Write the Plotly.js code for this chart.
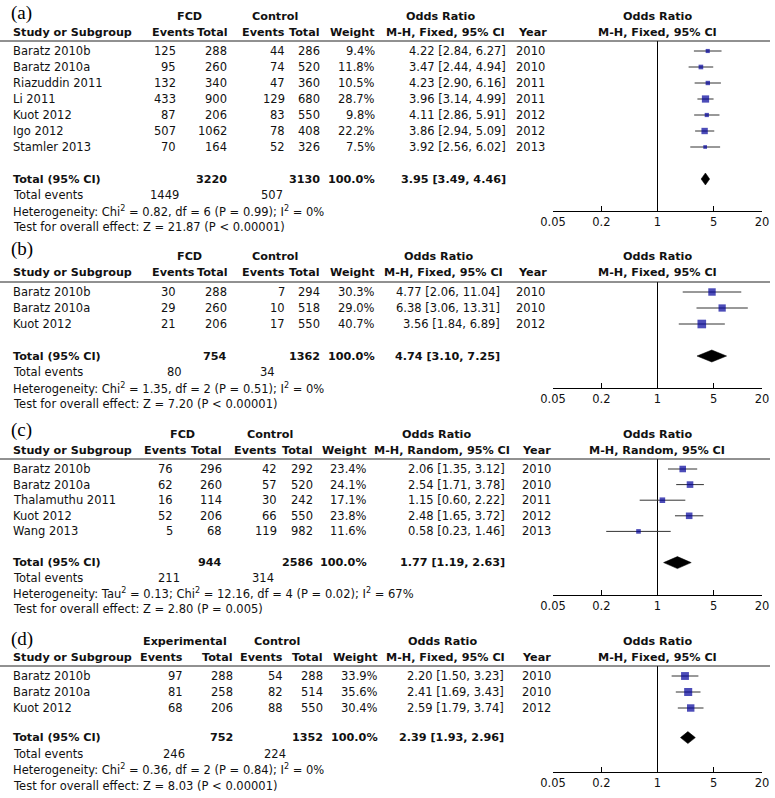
<!DOCTYPE html>
<html>
<head>
<meta charset="utf-8">
<script src="https://cdn.plot.ly/plotly-3.0.1.min.js"></script>
<style>html,body{margin:0;padding:0;background:#fff;}#plot{width:775px;height:798px;}</style>
</head>
<body>
<div id="plot"></div>
<script>
// ---------------- DATA ----------------
// Panel (a)
const studiesA = ["Baratz 2010b","Baratz 2010a","Riazuddin 2011","Li 2011","Kuot 2012","Igo 2012","Stamler 2013"];
const expEventsA = [125,95,132,433,87,507,70];
const expTotalA = [288,260,340,900,206,1062,164];
const ctrlEventsA = [44,74,47,129,83,78,52];
const ctrlTotalA = [286,520,360,680,550,408,326];
const weightA = [9.4,11.8,10.5,28.7,9.8,22.2,7.5];
const orA = [4.22,3.47,4.23,3.96,4.11,3.86,3.92];
const loA = [2.84,2.44,2.90,3.14,2.86,2.94,2.56];
const hiA = [6.27,4.94,6.16,4.99,5.91,5.09,6.02];
const yearA = [2010,2010,2011,2011,2012,2012,2013];
const totalA = {expTotal:3220, ctrlTotal:3130, or:3.95, lo:3.49, hi:4.46, expEvents:1449, ctrlEvents:507};
const hetA = "Heterogeneity: Chi<sup>2</sup> = 0.82, df = 6 (P = 0.99); I<sup>2</sup> = 0%";
const testA = "Test for overall effect: Z = 21.87 (P &lt; 0.00001)";

// Panel (b)
const studiesB = ["Baratz 2010b","Baratz 2010a","Kuot 2012"];
const expEventsB = [30,29,21];
const expTotalB = [288,260,206];
const ctrlEventsB = [7,10,17];
const ctrlTotalB = [294,518,550];
const weightB = [30.3,29.0,40.7];
const orB = [4.77,6.38,3.56];
const loB = [2.06,3.06,1.84];
const hiB = [11.04,13.31,6.89];
const yearB = [2010,2010,2012];
const totalB = {expTotal:754, ctrlTotal:1362, or:4.74, lo:3.10, hi:7.25, expEvents:80, ctrlEvents:34};
const hetB = "Heterogeneity: Chi<sup>2</sup> = 1.35, df = 2 (P = 0.51); I<sup>2</sup> = 0%";
const testB = "Test for overall effect: Z = 7.20 (P &lt; 0.00001)";

// Panel (c)
const studiesC = ["Baratz 2010b","Baratz 2010a","Thalamuthu 2011","Kuot 2012","Wang 2013"];
const expEventsC = [76,62,16,52,5];
const expTotalC = [296,260,114,206,68];
const ctrlEventsC = [42,57,30,66,119];
const ctrlTotalC = [292,520,242,550,982];
const weightC = [23.4,24.1,17.1,23.8,11.6];
const orC = [2.06,2.54,1.15,2.48,0.58];
const loC = [1.35,1.71,0.60,1.65,0.23];
const hiC = [3.12,3.78,2.22,3.72,1.46];
const yearC = [2010,2010,2011,2012,2013];
const totalC = {expTotal:944, ctrlTotal:2586, or:1.77, lo:1.19, hi:2.63, expEvents:211, ctrlEvents:314};
const hetC = "Heterogeneity: Tau<sup>2</sup> = 0.13; Chi<sup>2</sup> = 12.16, df = 4 (P = 0.02); I<sup>2</sup> = 67%";
const testC = "Test for overall effect: Z = 2.80 (P = 0.005)";

// Panel (d)
const studiesD = ["Baratz 2010b","Baratz 2010a","Kuot 2012"];
const expEventsD = [97,81,68];
const expTotalD = [288,258,206];
const ctrlEventsD = [54,82,88];
const ctrlTotalD = [288,514,550];
const weightD = [33.9,35.6,30.4];
const orD = [2.20,2.41,2.59];
const loD = [1.50,1.69,1.79];
const hiD = [3.23,3.43,3.74];
const yearD = [2010,2010,2012];
const totalD = {expTotal:752, ctrlTotal:1352, or:2.39, lo:1.93, hi:2.96, expEvents:246, ctrlEvents:224};
const hetD = "Heterogeneity: Chi<sup>2</sup> = 0.36, df = 2 (P = 0.84); I<sup>2</sup> = 0%";
const testD = "Test for overall effect: Z = 8.03 (P &lt; 0.00001)";

const tickVals = [0.05,0.2,1,5,20];
const tickText = ["0.05","0.2","1","5","20"];

// ---------------- LAYOUT POSITIONS (pixels) ----------------
const W = 775, H = 798;
const panels = [
  {label:"(a)", grp1:"FCD", method:"M-H, Fixed, 95% CI",
   studies:studiesA, ee:expEventsA, et:expTotalA, ce:ctrlEventsA, ct:ctrlTotalA, w:weightA, or:orA, lo:loA, hi:hiA, yr:yearA, tot:totalA, het:hetA, test:testA,
   pos:{row0:51, step:16, tOff:1.0, lab:13, axisY:211, g1:189, g2:275, hEv1:197, hTot1:230, hEv2:287, hTot2:322, hWt:377,
        cEv1:178, cTot1:229, cEv2:287, cTot2:322, cWt:377, cOr:508, cYr:514, hOr:440, hMH:445, hYr:516, te1:164, te2:272}},
  {label:"(b)", grp1:"FCD", method:"M-H, Fixed, 95% CI",
   studies:studiesB, ee:expEventsB, et:expTotalB, ce:ctrlEventsB, ct:ctrlTotalB, w:weightB, or:orB, lo:loB, hi:hiB, yr:yearB, tot:totalB, het:hetB, test:testB,
   pos:{row0:292, step:16, tOff:1.0, lab:249, axisY:388, g1:189, g2:275, hEv1:197, hTot1:230, hEv2:287, hTot2:322, hWt:377,
        cEv1:178, cTot1:229, cEv2:287, cTot2:322, cWt:377, cOr:502, cYr:514, hOr:438, hMH:443, hYr:516, te1:174, te2:267}},
  {label:"(c)", grp1:"FCD", method:"M-H, Random, 95% CI",
   studies:studiesC, ee:expEventsC, et:expTotalC, ce:ctrlEventsC, ct:ctrlTotalC, w:weightC, or:orC, lo:loC, hi:hiC, yr:yearC, tot:totalC, het:hetC, test:testC,
   pos:{row0:469, step:15.6, tOff:1.0, lab:430, axisY:595, g1:182, g2:270, hEv1:189, hTot1:224, hEv2:279, hTot2:315, hWt:369,
        cEv1:175, cTot1:224, cEv2:279, cTot2:315, cWt:369, cOr:507, cYr:520, hOr:436, hMH:442, hYr:520, te1:169, te2:263}},
  {label:"(d)", grp1:"Experimental", method:"M-H, Fixed, 95% CI",
   studies:studiesD, ee:expEventsD, et:expTotalD, ce:ctrlEventsD, ct:ctrlTotalD, w:weightD, or:orD, lo:loD, hi:hiD, yr:yearD, tot:totalD, het:hetD, test:testD,
   pos:{row0:676, step:16, tOff:0.85, lab:639, axisY:772, g1:185, g2:277, hEv1:185, hTot1:235, hEv2:285, hTot2:325, hWt:380,
        cEv1:185, cTot1:235, cEv2:285, cTot2:325, cWt:380, cOr:506, cYr:520, hOr:442, hMH:446, hYr:520, te1:174, te2:275}}
];

const FONT = "DejaVu Sans";
const TXT = "#111";
const FS = 11.5, FSB = 11.2;
const px = x => x / W;
const py = y => 1 - y / H;
const fmt2 = v => v.toFixed(2);
const fmtCI = (o,l,h) => fmt2(o) + " [" + fmt2(l) + ", " + fmt2(h) + "]";

const traces = [], annotations = [], shapes = [];
const layout = {
  width: W, height: H, margin:{l:0,r:0,t:0,b:0},
  paper_bgcolor:"#fff", plot_bgcolor:"rgba(0,0,0,0)",
  showlegend:false, hovermode:false,
  font:{family:FONT, size:FS, color:TXT}
};

const FX0 = 553, FX1 = 762;

panels.forEach((p, k) => {
  const n = p.studies.length;
  const P = p.pos, S = P.step;
  const xa = "x" + (k ? k+1 : ""), ya = "y" + (k ? k+1 : "");
  const xKey = "xaxis" + (k ? k+1 : ""), yKey = "yaxis" + (k ? k+1 : "");
  const lineY = P.row0 - 10;
  const h2 = P.row0 - 19, h1 = P.row0 - 35;
  const rTop = (lineY - P.row0) / S, rBot = (P.axisY - P.row0) / S;
  const t = n + P.tOff;            // total row index
  const rowPx = r => P.row0 + r * S;

  layout[xKey] = {type:"log", domain:[px(FX0), px(FX1)], range:[Math.log10(0.05), Math.log10(20)],
    anchor:ya, showline:true, linecolor:"#000", linewidth:1, ticks:"inside", ticklen:5, tickcolor:"#000",
    tickvals:tickVals, ticktext:tickText, tickfont:{family:FONT, size:FS, color:TXT},
    showgrid:false, zeroline:false, fixedrange:true};
  layout[yKey] = {domain:[py(P.axisY), py(lineY)], range:[rBot, rTop], anchor:xa,
    showgrid:false, zeroline:false, showline:false, showticklabels:false, ticks:"", fixedrange:true};

  // vertical line at OR = 1
  traces.push({type:"scatter", mode:"lines", x:[1,1], y:[rTop, rBot], xaxis:xa, yaxis:ya,
    line:{color:"#000", width:1}, cliponaxis:false});
  // CI lines
  const cx = [], cy = [];
  p.or.forEach((o,i) => { cx.push(p.lo[i], p.hi[i], null); cy.push(i, i, null); });
  traces.push({type:"scatter", mode:"lines", x:cx, y:cy, xaxis:xa, yaxis:ya, line:{color:"#333", width:1}});
  // squares sized by weight
  traces.push({type:"scatter", mode:"markers", x:p.or, y:p.or.map((o,i)=>i), xaxis:xa, yaxis:ya,
    marker:{symbol:"square", color:"#00009a", size:p.w.map(w => 1.35*Math.sqrt(w)), line:{width:0}}});
  // pooled diamond
  const dh = 6 / S;
  traces.push({type:"scatter", mode:"lines", fill:"toself", fillcolor:"#000",
    x:[p.tot.lo, p.tot.or, p.tot.hi, p.tot.or, p.tot.lo], y:[t, t-dh, t, t+dh, t],
    xaxis:xa, yaxis:ya, line:{color:"#000", width:0.5}});

  // header line
  shapes.push({type:"line", xref:"paper", yref:"paper", x0:0, x1:px(770), y0:py(lineY), y1:py(lineY),
    line:{color:"#222", width:1}});

  const A = (text, x, y, anchor, bold) => annotations.push({
    text: bold ? "<b>"+text+"</b>" : text, x:px(x), y:py(y), xref:"paper", yref:"paper",
    xanchor:anchor, yanchor:"middle", showarrow:false,
    font:{family:FONT, size: bold ? FSB : FS, color:TXT}});
  const R = (text, x, r, anchor, bold) => A(text, x, rowPx(r), anchor, bold);

  // panel label
  annotations.push({text:p.label, x:px(9), y:py(P.lab), xref:"paper", yref:"paper", xanchor:"left",
    yanchor:"middle", showarrow:false, font:{family:"Liberation Serif", size:19, color:"#000"}});
  // headers
  A(p.grp1, P.g1, h1, "center", true);
  A("Control", P.g2, h1, "center", true);
  A("Odds Ratio", P.hOr, h1, "center", true);
  A("Odds Ratio", 657, h1, "center", true);
  A("Study or Subgroup", 11, h2, "left", true);
  A("Events", P.hEv1, h2, "right", true);
  A("Total", P.hTot1, h2, "right", true);
  A("Events", P.hEv2, h2, "right", true);
  A("Total", P.hTot2, h2, "right", true);
  A("Weight", P.hWt, h2, "right", true);
  A(p.method, P.hMH, h2, "center", true);
  A("Year", P.hYr, h2, "left", true);
  A(p.method, 657, h2, "center", true);

  // study rows
  p.studies.forEach((s,i) => {
    R(s, 11, i, "left");
    R(String(p.ee[i]), P.cEv1, i, "right");
    R(String(p.et[i]), P.cTot1, i, "right");
    R(String(p.ce[i]), P.cEv2, i, "right");
    R(String(p.ct[i]), P.cTot2, i, "right");
    R(p.w[i].toFixed(1)+"%", P.cWt, i, "right");
    R(fmtCI(p.or[i], p.lo[i], p.hi[i]), P.cOr, i, "right");
    R(String(p.yr[i]), P.cYr, i, "left");
  });
  // total rows
  R("Total (95% CI)", 11, t, "left", true);
  R(String(p.tot.expTotal), P.cTot1, t, "right", true);
  R(String(p.tot.ctrlTotal), P.cTot2, t, "right", true);
  R("100.0%", P.cWt, t, "right", true);
  R(fmtCI(p.tot.or, p.tot.lo, p.tot.hi), P.cOr, t, "right", true);
  R("Total events", 11, t+1, "left");
  R(String(p.tot.expEvents), P.te1, t+1, "center");
  R(String(p.tot.ctrlEvents), P.te2, t+1, "center");
  R(p.het, 11, t+2, "left");
  R(p.test, 11, t+3, "left");
});

layout.annotations = annotations;
layout.shapes = shapes;
Plotly.newPlot("plot", traces, layout, {staticPlot:true, displayModeBar:false});
</script>
</body>
</html>
